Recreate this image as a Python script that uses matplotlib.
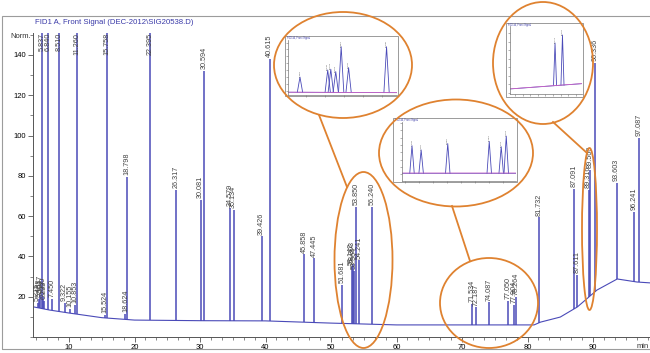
import numpy as np
import matplotlib.pyplot as plt
from matplotlib.patches import Ellipse, Rectangle
from matplotlib.lines import Line2D
from matplotlib.ticker import MultipleLocator, AutoMinorLocator

W, H = 650, 353
FONT = ["Liberation Sans Narrow", "Liberation Sans", "DejaVu Sans"]
plt.rcParams["font.family"] = FONT

# retention times (min) and peak heights (Norm.); 200 = off the top of the plot
rt = [5.215, 5.468, 5.617, 5.837, 6.060, 6.233, 6.840, 7.450, 8.510, 9.322,
      10.155, 10.853, 11.260, 15.524, 15.758, 18.624, 18.798, 22.395, 26.317,
      30.081, 30.594, 34.579, 35.134, 39.426, 40.615, 45.858, 47.445, 51.681,
      53.142, 53.303, 53.564, 53.850, 54.241, 56.240, 71.534, 72.187, 74.087,
      77.050, 77.904, 78.264, 81.732, 87.091, 87.611, 89.316, 89.560, 90.336,
      93.603, 96.241, 97.087]
height = [17, 19, 21, 200, 20, 18, 200, 19, 200, 17,
          14, 16, 200, 11, 200, 11.5, 79.4, 200, 73,
          68, 132, 64, 63, 50, 138, 41, 39, 26,
          35, 36, 33, 64.5, 38, 64.5, 16.4, 14.8, 17.2,
          18, 16, 20, 59.5, 73.5, 31, 73, 83, 136,
          76.5, 62, 99]

# baseline drift of the signal
base_t = [4.5, 7, 10, 15, 20, 30, 40, 50, 60, 70, 81, 82, 85, 87.6, 90.6, 93.7, 96.7, 99]
base_y = [15, 13.4, 11.9, 9.6, 8.4, 8.1, 8.0, 6.9, 6.0, 6.0, 6.0, 7.4, 9.9, 14.9, 23.3, 28.8, 27.3, 26.8]

TRACE = "#4a4ab8"
ORANGE = "#df8230"
YTOP = 150.9


def fx(x):
    return x / W


def fy(y):
    return 1 - y / H


fig = plt.figure(figsize=(W / 100, H / 100), dpi=100)
fig.patches.append(Rectangle((fx(2), fy(349)), 1, (349 - 16) / H, transform=fig.transFigure,
                             fill=False, ec="#9c9c9c", lw=0.8))

# ------------------------------------------------------------------ main signal
ax = fig.add_axes([fx(33), fy(337), (W - 33) / W, (337 - 33) / H])
ax.set_xlim(4.504, 98.70)
ax.set_ylim(0, YTOP)
for s in ("top", "right"):
    ax.spines[s].set_visible(False)
for s in ("left", "bottom"):
    ax.spines[s].set_color("#555555")
    ax.spines[s].set_linewidth(0.7)

foot = np.interp(rt, base_t, base_y)
top = np.minimum(height, YTOP)
ax.plot(base_t, base_y, color=TRACE, lw=0.8)
ax.vlines(rt, foot, top, color=TRACE, lw=1.1)
for t, h in zip(rt, height):
    if h >= YTOP:
        ax.text(t, YTOP, f"{t:.3f}", rotation=90, ha="center", va="top",
                fontsize=5.2, color="#444444")
    else:
        ax.text(t, h + 0.8, f"{t:.3f}", rotation=90, ha="center", va="bottom",
                fontsize=5.2, color="#444444")

ax.set_yticks([20, 40, 60, 80, 100, 120, 140])
ax.yaxis.set_minor_locator(MultipleLocator(10))
ax.set_xticks([10, 20, 30, 40, 50, 60, 70, 80, 90])
ax.xaxis.set_minor_locator(AutoMinorLocator(6))
ax.tick_params(axis="both", which="major", labelsize=5.5, length=3.5, width=0.6,
               color="#555555", pad=1.5)
ax.tick_params(axis="both", which="minor", length=2, width=0.5, color="#555555")
fig.text(fx(31), fy(37), "Norm.", ha="right", va="center", fontsize=5.5, color="#333333")
fig.text(fx(637), fy(347), "min", ha="left", va="center", fontsize=5.5, color="#333333")
fig.text(fx(35), fy(22), "FID1 A, Front Signal (DEC-2012\\SIG20538.D)", ha="left",
         va="center", fontsize=5.6, color="#3a3aa8")


# ------------------------------------------------------------------ zoom insets
def inset(box, area, xlim, ylim, w):
    x0, y0, x1, y1 = box
    fig.patches.append(Rectangle((fx(x0), fy(y1)), (x1 - x0) / W, (y1 - y0) / H,
                                 transform=fig.transFigure, fc="white", ec="#8a8a8a",
                                 lw=0.6, zorder=5))
    fig.text(fx(x0 + 2), fy(y0 + 2), "FID1 A, Front Signal", fontsize=1.8,
             color="#3a3aa8", va="center", zorder=7)
    a0, b0, a1, b1 = area
    ia = fig.add_axes([fx(a0), fy(b1), (a1 - a0) / W, (b1 - b0) / H], zorder=6)
    ia.patch.set_alpha(0)
    ia.set_xlim(*xlim)
    ia.set_ylim(*ylim)
    for s in ("top", "right"):
        ia.spines[s].set_visible(False)
    for s in ("left", "bottom"):
        ia.spines[s].set_color("#777777")
        ia.spines[s].set_linewidth(0.5)
    ia.xaxis.set_major_locator(MultipleLocator(1 if xlim[1] - xlim[0] > 3 else 0.25))
    ia.yaxis.set_major_locator(MultipleLocator((ylim[1] - ylim[0]) / 8))
    ia.tick_params(length=1.5, width=0.4, color="#777777", labelleft=False,
                   labelbottom=False)
    ia.plot(base_t, base_y, color=TRACE, lw=0.6)
    for t, h in zip(rt, height):
        if xlim[0] < t < xlim[1]:
            f = np.interp(t, base_t, base_y)
            ia.plot([t - w, t, t + w], [f, min(h, ylim[1]), f], color=TRACE, lw=0.6)
            ia.text(t, min(h, ylim[1]), f"{t:.3f}", rotation=90, ha="center",
                    va="bottom", fontsize=1.6, color="#444444")
    ia.plot(base_t, np.array(base_y) + 0.1, color="#e066c8", lw=0.5)


inset((285, 36, 398, 96), (288, 40, 397, 95), (51.05, 56.79), (3.3, 73), 0.14)
inset((393, 118, 517, 182), (402, 122, 516, 181), (70.82, 78.96), (3.1, 25.3), 0.16)
inset((506, 23, 583, 97), (510, 26, 582, 94), (87.84, 90.2), (9.25, 94.25), 0.05)

# ------------------------------------------------------------------ callouts
ellipses = [(343, 65, 138, 106), (363.5, 260, 58, 176), (456, 153, 154, 107),
            (489, 303, 98, 90), (543, 63, 100, 122), (589.5, 229, 15, 162)]
for cx, cy, ew, eh in ellipses:
    fig.patches.append(Ellipse((fx(cx), fy(cy)), ew / W, eh / H, transform=fig.transFigure,
                               fill=False, ec=ORANGE, lw=1.3, zorder=8))
links = [((319, 115), (347, 187)), ((452, 206), (470, 261)), ((553, 122), (587, 153))]
for (xa, ya), (xb, yb) in links:
    fig.lines.append(Line2D([fx(xa), fx(xb)], [fy(ya), fy(yb)], transform=fig.transFigure,
                            color=ORANGE, lw=1.3, zorder=8))

fig.savefig("out.png", dpi=100)
